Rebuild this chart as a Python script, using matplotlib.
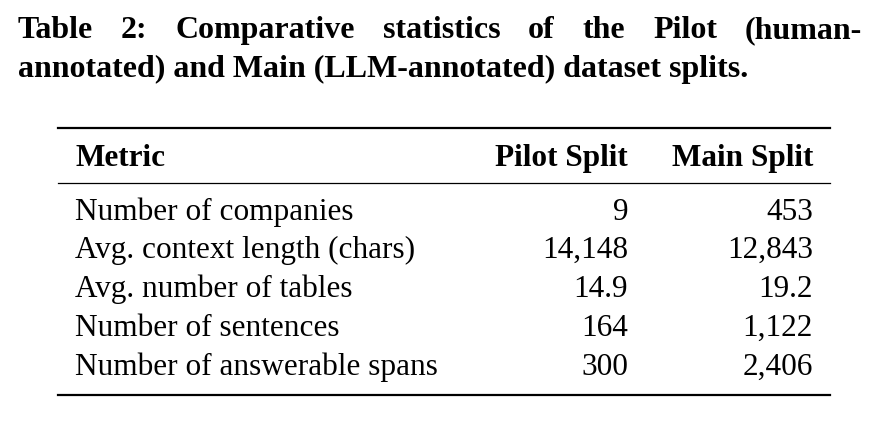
import matplotlib
matplotlib.use("Agg")
import matplotlib.pyplot as plt

title1 = "Table 2: Comparative statistics of the Pilot (human-"
title2 = "annotated) and Main (LLM-annotated) dataset splits."
columns = ["Metric", "Pilot Split", "Main Split"]
metrics = ["Number of companies", "Avg. context length (chars)", "Avg. number of tables",
           "Number of sentences", "Number of answerable spans"]
pilot = ["9", "14,148", "14.9", "164", "300"]
main = ["453", "12,843", "19.2", "1,122", "2,406"]

W, H = 882, 422
fig = plt.figure(figsize=(W/100, H/100), dpi=100)
ax = fig.add_axes([0, 0, 1, 1])
ax.set_xlim(0, W); ax.set_ylim(H, 0); ax.axis("off")
fam = ["Liberation Serif", "DejaVu Serif"]
TS = 23
BS = 22.5

words = title1.split(" ")
texts = [ax.text(0, 38, w, fontsize=TS, fontweight="bold", family=fam, va="baseline", ha="left") for w in words]
fig.canvas.draw()
r = fig.canvas.get_renderer()
inv = ax.transData.inverted()
widths = []
for t in texts:
    bb = t.get_window_extent(r)
    x0 = inv.transform((bb.x0, 0))[0]; x1 = inv.transform((bb.x1, 0))[0]
    widths.append(x1 - x0)
left, right = 18, 862
gap = (right - left - sum(widths)) / (len(words) - 1)
x = left
for t, w in zip(texts, widths):
    t.set_x(x); x += w + gap
ax.text(left, 77, title2, fontsize=TS, fontweight="bold", family=fam, va="baseline", ha="left")

ax.plot([58, 830], [128, 128], color="black", lw=1.6)
ax.plot([58, 830], [183, 183], color="black", lw=0.9)
ax.plot([58, 830], [395, 395], color="black", lw=1.6)

xs = [75, 628, 813]
has = ["left", "right", "right"]
for c, xx, ha in zip(columns, xs, has):
    ax.text(xx, 166, c, fontsize=BS, fontweight="bold", family=fam, va="baseline", ha=ha)
ys = [220, 258, 297, 336, 375]
for y, m, p, q in zip(ys, metrics, pilot, main):
    ax.text(xs[0], y, m, fontsize=BS, family=fam, va="baseline", ha="left")
    ax.text(xs[1], y, p, fontsize=BS, family=fam, va="baseline", ha="right")
    ax.text(xs[2], y, q, fontsize=BS, family=fam, va="baseline", ha="right")

fig.savefig("out.png", dpi=100, facecolor="white")
